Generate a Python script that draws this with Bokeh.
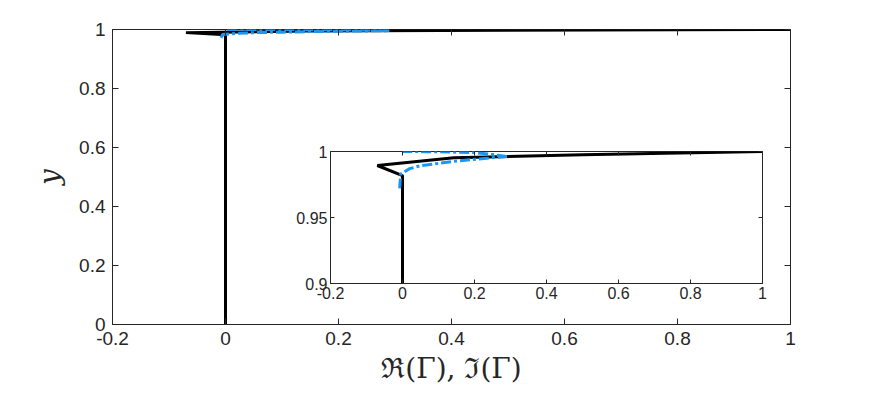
from bokeh.plotting import figure
from bokeh.models import LinearAxis, FixedTicker, Range1d
from bokeh.embed import file_html
from bokeh.resources import INLINE

# ---- data ----
black_x = [0.0, 0.0, 0.0, -0.07, 0.143, 0.5, 1.0]
black_y = [0.0, 0.9705, 0.9818, 0.9894, 0.9952, 0.9975, 1.0]

blue_lo_x = [-0.008, -0.005, 0.02, 0.05, 0.1, 0.15, 0.22, 0.29]
blue_lo_y = [0.972, 0.983, 0.987, 0.9893, 0.991, 0.9928, 0.9945, 0.9962]

blue_up_x = [0.29, 0.25, 0.2, 0.1, 0.0]
blue_up_y = [0.9962, 0.9977, 0.9992, 0.9998, 1.0]

x_ticks = [-0.2, 0, 0.2, 0.4, 0.6, 0.8, 1.0]
x_tick_labels = ["-0.2", "0", "0.2", "0.4", "0.6", "0.8", "1"]
y_ticks = [0, 0.2, 0.4, 0.6, 0.8, 1.0]
y_tick_labels = ["0", "0.2", "0.4", "0.6", "0.8", "1"]
inset_y_ticks = [0.9, 0.95, 1.0]
inset_y_tick_labels = ["0.9", "0.95", "1"]

BLUE = "#1a96f5"
AX = "#262626"
TICKFONT = "Liberation Sans"
DASH = "10 3 3 3"


def style_axes(fig, xt, xl, yt, yl, fs, tick_len, standoff):
    for ax, ticks, labels in ((fig.below[0], xt, xl), (fig.left[0], yt, yl)):
        ax.ticker = FixedTicker(ticks=ticks)
        ax.major_label_overrides = {t: l for t, l in zip(ticks, labels)}
        ax.major_tick_in = tick_len
        ax.major_tick_out = 0
        ax.minor_tick_line_color = None
        ax.axis_line_color = AX
        ax.major_tick_line_color = AX
        ax.major_label_text_font = TICKFONT
        ax.major_label_text_font_size = fs
        ax.major_label_text_color = AX
        ax.major_label_standoff = standoff
    # mirrored ticks (box on)
    top = LinearAxis(ticker=FixedTicker(ticks=xt))
    right = LinearAxis(ticker=FixedTicker(ticks=yt))
    for ax in (top, right):
        ax.major_tick_in = tick_len
        ax.major_tick_out = 0
        ax.minor_tick_line_color = None
        ax.axis_line_color = None
        ax.major_tick_line_color = AX
        ax.major_label_text_color = None
        ax.major_label_text_font_size = "1px"
        ax.major_label_standoff = 0
    fig.add_layout(top, "above")
    fig.add_layout(right, "right")
    fig.xgrid.grid_line_color = None
    fig.ygrid.grid_line_color = None
    fig.outline_line_color = AX
    fig.outline_line_width = 1


def draw(fig):
    fig.line(black_x, black_y, line_color="black", line_width=3)
    fig.line(blue_lo_x, blue_lo_y, line_color=BLUE, line_width=3, line_dash=DASH)
    fig.line(blue_up_x, blue_up_y, line_color=BLUE, line_width=3, line_dash=DASH)


p = figure(width=864, height=388, output_backend="svg", toolbar_location=None,
           x_range=Range1d(-0.2, 1.0), y_range=Range1d(0, 1.0),
           min_border_left=112, min_border_right=74, min_border_top=29, min_border_bottom=64)
p.background_fill_color = "white"
p.border_fill_color = "white"
style_axes(p, x_ticks, x_tick_labels, y_ticks, y_tick_labels, "19px", 6, 7)
draw(p)
xa = p.below[0]
xa.axis_label = "ℜ(Γ), ℑ(Γ)"
xa.axis_label_text_font = "DejaVu Serif"
xa.axis_label_text_font_style = "normal"
xa.axis_label_text_font_size = "28px"
xa.axis_label_text_color = AX
xa.axis_label_standoff = 4
ya = p.left[0]
ya.axis_label = "y"
ya.axis_label_text_font = "DejaVu Serif"
ya.axis_label_text_font_style = "italic"
ya.axis_label_text_font_size = "28px"
ya.axis_label_text_color = AX
ya.axis_label_standoff = 10

inset = figure(width=482, height=167, output_backend="svg", toolbar_location=None,
               x_range=Range1d(-0.2, 1.0), y_range=Range1d(0.9, 1.0),
               min_border_left=40, min_border_right=10, min_border_top=10, min_border_bottom=25,
               styles={"position": "absolute", "left": "290px", "top": "141px"})
inset.background_fill_color = "white"
inset.border_fill_color = None
style_axes(inset, x_ticks, x_tick_labels, inset_y_ticks, inset_y_tick_labels, "16px", 4, 3)
draw(inset)

open("out.html", "w").write(file_html([p, inset], INLINE))
